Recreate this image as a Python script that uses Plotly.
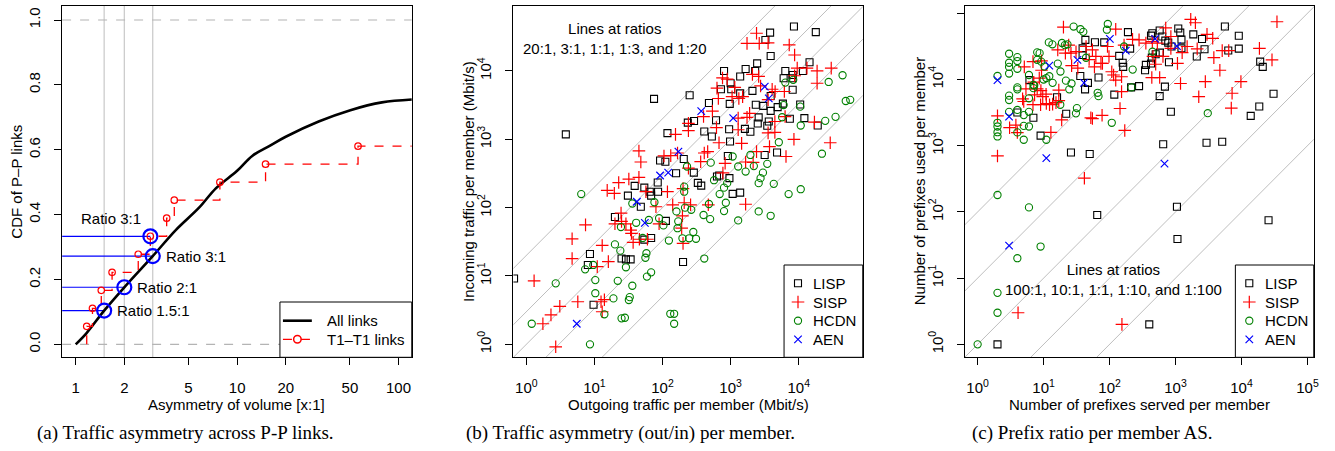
import plotly.graph_objects as go
import numpy as np

# ---------------- Panel (a) data ----------------
all_x = [1.0, 1.164, 1.5, 2.0, 3.0, 4.18, 5.83, 7.38, 10.0, 12.4, 15.8, 20.0, 32.0, 50.3, 78.9, 121.0]
all_y = [0.0, 0.034, 0.104, 0.176, 0.272, 0.353, 0.422, 0.481, 0.535, 0.581, 0.611, 0.640, 0.687, 0.722, 0.746, 0.755]

t1_x = [1.17, 1.27, 1.44, 1.68, 2.44, 2.9, 3.66, 4.08, 7.82, 15.0, 56.1]
t1_y = [1/18, 2/18, 3/18, 4/18, 5/18, 6/18, 7/18, 8/18, 9/18, 10/18, 11/18]

ratio_x = [1.5, 2.0, 3.0, 2.9]
ratio_y = [0.104, 0.176, 0.272, 0.333]
ratio_labels = ["Ratio 1.5:1", "Ratio 2:1", "Ratio 3:1", "Ratio 3:1"]
vlines_a = [1.5, 2, 3]

a_xticks = [1, 2, 5, 10, 20, 50, 100]
a_yticks = [0.0, 0.2, 0.4, 0.6, 0.8, 1.0]
a_legend_names = ["All links", "T1\u2013T1 links"]

# ---------------- Panel (b) data ----------------
b_lisp_out = [0.66, 3.8, 75, 250, 118, 92, 110, 205, 158, 288, 235, 290, 410, 480, 610, 530, 720, 800, 1000, 1020,
              970, 950, 980, 910, 960, 1380, 1660, 1380, 1620, 2090, 2290, 2450, 2340, 2580, 1950, 2500, 3020, 3240,
              3800, 3870, 3870, 3630, 3870, 3450, 3160, 4800, 4900, 5850, 6350, 6000, 8150, 8100, 8150, 8500, 7400,
              10500, 11500, 12100, 14400, 17800, 19000, 68, 65, 54, 39, 48, 31, 85, 86, 20, 112, 68, 54, 8.6, 8, 25,
              34, 29, 200, 9.7, 630, 680, 330, 370, 1070, 1380]
b_lisp_in = [9.2, 1180, 3900, 4400, 1230, 490, 470, 515, 318, 325, 1750, 1850, 1300, 3400, 1900, 1100, 5400, 10000,
             6600, 5400, 3300, 1400, 930, 570, 270, 8300, 10700, 4700, 1420, 5100, 10000, 12900, 3200, 2090, 1290,
             1700, 3080, 28400, 36300, 16500, 4300, 1820, 2600, 1580, 590, 640, 2950, 3330, 10000, 7800, 8700, 7800,
             5300, 44600, 2000, 3230, 10000, 2040, 13400, 37000, 1590, 150, 171, 196, 208, 103, 150, 233, 171, 73, 64,
             36, 34, 21, 14.5, 18, 17.5, 17.5, 16, 3.8, 285, 295, 230, 210, 159, 166]

b_sisp_out = [1.3, 1.75, 2.3, 2.7, 3.1, 4.7, 4.7, 5.7, 7.4, 11, 12.5, 13, 14, 13, 16, 15.4, 19.6, 22.7, 20, 24.6, 25,
              29, 34, 35, 37, 32, 45, 45, 48, 45.7, 60, 57, 80, 89, 118, 105, 132, 141, 155, 166, 200, 208, 196, 200,
              191, 240, 240, 240, 258, 400, 410, 363, 460, 470, 540, 630, 620, 675, 660, 770, 830, 760, 890, 1050,
              1150, 1320, 1290, 1290, 1450, 1660, 1660, 1500, 1740, 1900, 1740, 2090, 2140, 2400, 2630, 2580, 2750,
              2400, 3550, 3550, 3550, 3720, 4070, 4500, 4460, 4460, 6300, 6500, 6150, 7250, 8500, 8700, 8700, 9500,
              13200, 17000, 18600, 18600, 29000, 30000]
b_sisp_in = [8.5, 2.0, 2.7, 0.92, 3.6, 18, 35, 4.2, 56, 13.7, 4.2, 28, 4.5, 3.0, 16.2, 179, 162, 233, 58, 83, 63, 58,
             47, 42, 31, 262, 277, 675, 465, 34.5, 34.5, 171, 103, 58, 171, 570, 576, 110, 1180, 630, 190, 118, 76, 30,
             50, 1340, 1710, 379, 110, 2150, 630, 470, 660, 110, 2590, 5600, 1480, 890, 3950, 322, 445, 7900, 7600,
             4200, 5750, 3950, 2040, 1380, 870, 465, 112, 4200, 2090, 2400, 25300, 8900, 460, 35600, 25300, 8300,
             6030, 660, 25700, 3800, 1240, 780, 5400, 5000, 1820, 1260, 2150, 560, 5000, 24000, 1000, 17100, 8500,
             11000, 11000, 1780, 10000, 6600, 890, 11000]

b_hcdn_out = [1.2, 2.7, 6.4, 7.3, 8.6, 9.6, 10.3, 10.3, 14, 19, 20, 22, 24, 24.5, 25, 28, 29, 32, 33, 36, 36, 41, 51,
              56, 58, 59, 68, 63, 76, 89, 103, 124, 130, 148, 148, 160, 170, 166, 196, 208, 208, 214, 229, 246, 264,
              283, 310, 400, 410, 480, 500, 510, 570, 690, 800, 800, 850, 890, 1070, 1290, 1290, 1660, 1950, 2190,
              2580, 2580, 2750, 2980, 3450, 3870, 4300, 5100, 5700, 7100, 6000, 6350, 8300, 10500, 10700, 10700,
              21900, 24500, 27500, 34700, 44000, 49000, 57000]
b_hcdn_in = [2.0, 7.8, 158, 12.5, 1.0, 14.5, 8.7, 5.6, 2.75, 4.7, 29, 8.5, 23.5, 52, 2.4, 2.45, 13.4, 4.45, 4.9, 7.2,
             115, 60, 36, 18.5, 21.5, 9.8, 11.3, 66, 120, 70, 55, 33, 2.8, 2.8, 2.0, 88, 63, 50, 35.6, 203, 171, 100,
             400, 35.6, 93, 44, 35, 78, 18, 113, 68, 455, 252, 158, 89, 196, 118, 228, 560, 400, 65, 337, 590, 405, 88,
             228, 270, 325, 437, 76, 223, 905, 2100, 158, 3170, 6750, 7400, 3000, 1590, 186, 615, 1860, 6900, 2130,
             8650, 3630, 3780]

b_aen_out = [5.5, 42, 55, 92, 121, 171, 370, 1090, 3170, 3630]
b_aen_in = [2.0, 122, 60, 295, 325, 660, 2580, 2040, 5900, 3970]

b_ratios = [20, 3, 1, 1/3, 1/20]
b_ticks = [1, 10, 100, 1000, 10000]
b_ticktext = ["10<sup>0</sup>", "10<sup>1</sup>", "10<sup>2</sup>", "10<sup>3</sup>", "10<sup>4</sup>"]

# ---------------- Panel (c) data ----------------
c_lisp_served = [2, 400, 1070, 1050, 65, 25700, 26, 50, 650, 2950, 5100, 9, 13800, 18600, 30600, 850, 7, 4, 22, 16,
                 118, 42.5, 280, 212, 575, 690, 345, 6.1, 47, 68, 36, 161, 158, 205, 355, 425, 437, 580, 500, 795,
                 775, 700, 630, 1100, 1180, 870, 1230, 1230, 1860, 2750, 2520, 2100, 5600, 6300, 9100, 9100, 19200,
                 21000, 39, 60, 43, 83, 190, 445, 425, 575, 140, 39]
c_lisp_used = [1, 2, 39, 120, 90, 75, 790, 750, 1050, 1110, 1150, 1420, 2820, 3900, 6100, 3250, 2650, 3170, 3040,
               5400, 5900, 7100, 7950, 7600, 5600, 7800, 13800, 9800, 8900, 10700, 11300, 15500, 17900, 29300, 16600,
               17400, 21400, 25500, 24000, 18200, 36000, 38600, 44600, 59000, 51000, 31500, 40000, 29500, 48000,
               28700, 40800, 22300, 63000, 27400, 29300, 45700, 18600, 15500, 29500, 36500, 39600, 36300, 52000,
               50000, 46000, 55000, 22700, 23500]

c_sisp_served = [4.1, 154, 41.5, 170, 2, 2, 3.05, 4, 3.8, 12.9, 18.8, 52, 77, 144, 152, 124, 5, 4.8, 6.9, 9, 11,
                 12.3, 13.7, 15.4, 17, 17, 7.3, 9.1, 9.7, 8, 10.9, 5.4, 7.1, 8.6, 9.3, 9.3, 6.9, 5.1, 20, 21.4, 26,
                 31, 44, 55, 62, 78, 98, 108, 124, 93, 152, 115, 166, 223, 280, 355, 445, 530, 710, 850, 645, 850,
                 1070, 1260, 1500, 1700, 2000, 2130, 3000, 3660, 3810, 2830, 2250, 1190, 437, 575, 500, 455, 4700,
                 5100, 6400, 7200, 7000, 9800, 18700, 29000, 34500, 55, 26.6, 33, 49, 59, 74, 16.4, 24]
c_sisp_used = [3, 2, 323, 1700, 700, 2820, 1870, 1580, 2050, 1590, 2450, 2640, 2880, 3650, 6550, 9800, 4650, 5100,
               4160, 4160, 4340, 4160, 4250, 4480, 4800, 6900, 5850, 6800, 5500, 7200, 6000, 7200, 9100, 10500, 13800,
               19100, 18600, 15500, 61700, 25000, 25000, 26300, 31500, 28000, 22300, 17500, 22300, 13100, 57500,
               31500, 11000, 11700, 33000, 40500, 39600, 35400, 37200, 35400, 60000, 44600, 22300, 29500, 17500,
               25500, 31500, 81000, 72000, 29000, 48000, 41900, 21400, 9300, 5500, 8700, 10700, 10700, 17000, 22300,
               13800, 27300, 27300, 6200, 3700, 9300, 29500, 19800, 74500, 2570, 16200, 14800, 20000, 15500, 17500,
               28000, 33000]

c_hcdn_served = [1, 2, 2, 2, 4, 9, 6, 2, 2, 2, 2, 2, 3, 3, 3, 3, 3, 3, 3, 4, 4, 4, 4, 4, 4, 4, 5, 5, 6, 6, 5, 6, 6,
                 7, 7, 8, 8.7, 8, 10, 11, 11, 12, 13.6, 16.4, 19, 21, 23, 24.5, 26.5, 17.9, 21.8, 30.9, 32, 28.5,
                 36.2, 40, 44, 66, 68, 91, 94, 108, 215, 3080, 18, 10.3, 13.7, 12.2, 9.2, 7.2, 166, 224, 447]
c_hcdn_used = [1, 3, 6, 180, 20, 30, 117, 11300, 1950, 1380, 1600, 2220, 24500, 17900, 15500, 12300, 5700, 4900,
               3250, 21800, 19000, 14500, 7600, 7100, 3470, 1590, 1990, 1230, 1950, 3250, 2900, 5200, 11700, 8300,
               7400, 25700, 25000, 19800, 10000, 1230, 10500, 36300, 34000, 17400, 35600, 33000, 34000, 7100, 8700,
               4150, 9600, 3080, 3700, 63000, 57500, 52400, 21300, 6300, 5600, 56500, 69000, 2220, 7600, 3100, 13200,
               15700, 8900, 11200, 18600, 8100, 31500, 14100, 26300]

c_aen_served = [2, 3, 3, 11, 12.2, 32.6, 41, 101, 176, 490, 680, 1050]
c_aen_used = [9800, 2750, 31, 650, 16200, 19800, 8900, 41000, 27300, 41000, 535, 32000]

c_ratios = [100, 10, 1, 0.1, 0.01]
c_ticks = [1, 10, 100, 1000, 10000, 100000]
c_ticktext = ["10<sup>0</sup>", "10<sup>1</sup>", "10<sup>2</sup>", "10<sup>3</sup>", "10<sup>4</sup>", "10<sup>5</sup>"]

# ---------------- Layout geometry ----------------
W, H = 1335, 451
def px_x(p):
    return p / W
def px_y(p):
    return (H - p) / H

y_dom = [px_y(357.33), px_y(6)]
a_xr = [-0.0844, 2.082]
a_yr = [-0.040, 1.0432]
b_xr = [-0.19, 4.94]
b_yr = [-0.19, 4.95]
c_xr = [-0.196, 5.095]
c_yr = [-0.196, 5.11]

SANS = "Liberation Sans, Arial, Helvetica, sans-serif"
SERIF = "Liberation Serif, Times New Roman, serif"
FS = 15

fig = go.Figure()

# ----- Panel (a) -----
for v in vlines_a:
    fig.add_trace(go.Scatter(x=[v, v], y=[a_yr[0], a_yr[1]], mode="lines",
                             line=dict(color="#c8c8c8", width=1.2), hoverinfo="skip",
                             xaxis="x", yaxis="y"))
for hv in [0.0, 1.0]:
    fig.add_trace(go.Scatter(x=[10 ** a_xr[0], 10 ** a_xr[1]], y=[hv, hv], mode="lines",
                             line=dict(color="#b4b4b4", width=1.2, dash="dash"),
                             hoverinfo="skip", xaxis="x", yaxis="y"))
for rx, ry in zip(ratio_x, ratio_y):
    fig.add_trace(go.Scatter(x=[10 ** a_xr[0], rx], y=[ry, ry], mode="lines",
                             line=dict(color="blue", width=1.2), hoverinfo="skip",
                             xaxis="x", yaxis="y"))

fig.add_trace(go.Scatter(x=all_x, y=all_y, mode="lines", line=dict(color="black", width=2.6, shape="spline"),
                         name=a_legend_names[0], xaxis="x", yaxis="y"))

step_x = [t1_x[0]] + t1_x + [10 ** a_xr[1]]
step_y = [0.0] + t1_y + [t1_y[-1]]
fig.add_trace(go.Scatter(x=step_x, y=step_y, mode="lines", line=dict(color="red", width=1.3, dash="dash", shape="hv"),
                         hoverinfo="skip", xaxis="x", yaxis="y"))
fig.add_trace(go.Scatter(x=t1_x, y=t1_y, mode="markers", name=a_legend_names[1],
                         marker=dict(symbol="circle-open", size=6.5, color="red", line=dict(width=1.2)),
                         xaxis="x", yaxis="y"))
fig.add_trace(go.Scatter(x=ratio_x, y=ratio_y, mode="markers",
                         marker=dict(symbol="circle-open", size=14, color="blue", line=dict(width=2.2)),
                         xaxis="x", yaxis="y"))

annotations = []
for i in range(3):
    annotations.append(dict(x=np.log10(ratio_x[i]), y=ratio_y[i], xref="x", yref="y", text=ratio_labels[i],
                            showarrow=False, xanchor="left", yanchor="middle", xshift=11,
                            font=dict(family=SANS, size=FS, color="black")))
annotations.append(dict(x=np.log10(ratio_x[3]), y=ratio_y[3], xref="x", yref="y", text=ratio_labels[3],
                        showarrow=False, xanchor="center", yanchor="middle", xshift=-39, yshift=18,
                        font=dict(family=SANS, size=FS, color="black")))

# ----- Panel (b) -----
bx_line = [10 ** (b_xr[0] - 0.5), 10 ** (b_xr[1] + 0.5)]
for r in b_ratios:
    fig.add_trace(go.Scatter(x=bx_line, y=[r * v for v in bx_line], mode="lines",
                             line=dict(color="#bebebe", width=1), hoverinfo="skip",
                             xaxis="x2", yaxis="y2"))

series_style = [
    ("LISP", dict(symbol="square-open", size=7, color="black", line=dict(width=1.1))),
    ("SISP", dict(symbol="cross-thin-open", size=9, color="red", line=dict(width=1.2, color="red"))),
    ("HCDN", dict(symbol="circle-open", size=7.2, color="green", line=dict(width=1.1))),
    ("AEN", dict(symbol="x-thin-open", size=7.5, color="blue", line=dict(width=1.2, color="blue"))),
]
b_data = [(b_lisp_out, b_lisp_in), (b_sisp_out, b_sisp_in), (b_hcdn_out, b_hcdn_in), (b_aen_out, b_aen_in)]
for (name, mk), (xs, ys) in zip(series_style, b_data):
    fig.add_trace(go.Scatter(x=xs, y=ys, mode="markers", marker=mk, name=name, xaxis="x2", yaxis="y2"))

# ----- Panel (c) -----
cx_line = [10 ** (c_xr[0] - 0.5), 10 ** (c_xr[1] + 0.5)]
for r in c_ratios:
    fig.add_trace(go.Scatter(x=cx_line, y=[r * v for v in cx_line], mode="lines",
                             line=dict(color="#bebebe", width=1), hoverinfo="skip",
                             xaxis="x3", yaxis="y3"))
c_data = [(c_lisp_served, c_lisp_used), (c_sisp_served, c_sisp_used), (c_hcdn_served, c_hcdn_used),
          (c_aen_served, c_aen_used)]
for (name, mk), (xs, ys) in zip(series_style, c_data):
    fig.add_trace(go.Scatter(x=xs, y=ys, mode="markers", marker=mk, name=name, xaxis="x3", yaxis="y3"))

# ----- Legends (boxed, R style) drawn on a pixel-unit overlay axis -----
def legend_box(left, top, right, bottom):
    fig.add_trace(go.Scatter(x=[left, right, right, left, left], y=[top, top, bottom, bottom, top],
                             mode="lines", fill="toself", fillcolor="white",
                             line=dict(color="black", width=1), hoverinfo="skip", xaxis="x4", yaxis="y4"))

def legend_text(x, y, s):
    annotations.append(dict(x=x, y=y, xref="x4", yref="y4", text=s, showarrow=False, xanchor="left",
                            yanchor="middle", font=dict(family=SANS, size=FS, color="black")))

# legend (a)
la = dict(left=281, top=302, right=413.3, bottom=357.3, rows=[320.7, 339.3], sym=[284, 313], text=326.7)
legend_box(la["left"], la["top"], la["right"], la["bottom"])
fig.add_trace(go.Scatter(x=la["sym"], y=[la["rows"][0]] * 2, mode="lines",
                         line=dict(color="black", width=2.6), hoverinfo="skip", xaxis="x4", yaxis="y4"))
fig.add_trace(go.Scatter(x=la["sym"], y=[la["rows"][1]] * 2, mode="lines",
                         line=dict(color="red", width=1.3, dash="dash"), hoverinfo="skip", xaxis="x4", yaxis="y4"))
fig.add_trace(go.Scatter(x=[sum(la["sym"]) / 2], y=[la["rows"][1]], mode="markers",
                         marker=dict(symbol="circle-open", size=7.5, color="red", line=dict(width=1.5)),
                         hoverinfo="skip", xaxis="x4", yaxis="y4"))
for name, ry in zip(a_legend_names, la["rows"]):
    legend_text(la["text"], ry, name)

# legends (b) and (c)
row_y = [283.3, 302, 320.7, 339.3]
for box, sym_x, text_x in [((787, 265, 866, 357.3), 801, 814), ((1240, 265, 1318.7, 357.3), 1254, 1267.5)]:
    legend_box(*box)
    for (name, mk), ry in zip(series_style, row_y):
        fig.add_trace(go.Scatter(x=[sym_x], y=[ry], mode="markers", marker=mk, hoverinfo="skip",
                                 xaxis="x4", yaxis="y4"))
        legend_text(text_x, ry, name)

# ----- Text annotations -----
def txt(x, y, s, size=FS, family=SANS, angle=0, xanchor="center", yanchor="middle"):
    return dict(x=x, y=y, xref="paper", yref="paper", text=s, showarrow=False, textangle=angle,
                xanchor=xanchor, yanchor=yanchor, font=dict(family=family, size=size, color="black"))

annotations += [
    txt(px_x(617), px_y(39), "Lines at ratios<br>20:1, 3:1, 1:1, 1:3, and 1:20"),
    txt(px_x(1118), px_y(279), "Lines at ratios<br>100:1, 10:1, 1:1, 1:10, and 1:100"),
    txt(px_x(237.8), px_y(404), "Asymmetry of volume [x:1]"),
    txt(px_x(690.7), px_y(404), "Outgoing traffic per member (Mbit/s)"),
    txt(px_x(1143.5), px_y(404), "Number of prefixes served per member"),
    txt(px_x(17), px_y(181.7), "CDF of P\u2013P links", angle=-90),
    txt(px_x(470), px_y(181.7), "Incoming traffic per member (Mbit/s)", angle=-90),
    txt(px_x(923), px_y(181.7), "Number of prefixes used per member", angle=-90),
    txt(px_x(186.5), px_y(433), "(a) Traffic asymmetry across P-P links.", size=19, family=SERIF),
    txt(px_x(632.5), px_y(433), "(b) Traffic asymmetry (out/in) per member.", size=19, family=SERIF),
    txt(px_x(1097), px_y(433), "(c) Prefix ratio per member AS.", size=19, family=SERIF),
]

axis_common = dict(showline=True, mirror=True, linecolor="black", linewidth=1, ticks="outside", ticklen=7,
                   tickcolor="black", tickwidth=1, showgrid=False, zeroline=False,
                   tickfont=dict(family=SANS, size=FS, color="black"))

fig.update_layout(
    width=W, height=H, margin=dict(l=0, r=0, t=0, b=0),
    paper_bgcolor="white", plot_bgcolor="rgba(0,0,0,0)",
    showlegend=False,
    xaxis=dict(domain=[px_x(62.33), px_x(413.33)], type="log", range=a_xr, tickvals=a_xticks,
               ticktext=[str(v) for v in a_xticks], anchor="y", ticklabelstandoff=10, **axis_common),
    yaxis=dict(domain=y_dom, range=a_yr, tickvals=a_yticks, ticktext=["%.1f" % v for v in a_yticks],
               tickangle=-90, anchor="x", ticklabelstandoff=8, **axis_common),
    xaxis2=dict(domain=[px_x(515.33), px_x(866)], type="log", range=b_xr, tickvals=b_ticks, ticktext=b_ticktext,
                anchor="y2", ticklabelstandoff=10, **axis_common),
    yaxis2=dict(domain=y_dom, type="log", range=b_yr, tickvals=b_ticks, ticktext=b_ticktext, tickangle=-90,
                anchor="x2", ticklabelstandoff=8, **axis_common),
    xaxis3=dict(domain=[px_x(968.33), px_x(1318.67)], type="log", range=c_xr, tickvals=c_ticks,
                ticktext=c_ticktext, anchor="y3", ticklabelstandoff=10, **axis_common),
    yaxis3=dict(domain=y_dom, type="log", range=c_yr, tickvals=c_ticks, ticktext=c_ticktext, tickangle=-90,
                anchor="x3", ticklabelstandoff=8, **axis_common),
    xaxis4=dict(domain=[0, 1], range=[0, W], visible=False, anchor="y4", fixedrange=True),
    yaxis4=dict(domain=[0, 1], range=[H, 0], visible=False, anchor="x4", fixedrange=True),
    annotations=annotations,
)

fig.write_html("out.html", config={"displayModeBar": False, "staticPlot": True},
               post_script="document.body.style.margin='0px';document.body.style.overflow='hidden';")
